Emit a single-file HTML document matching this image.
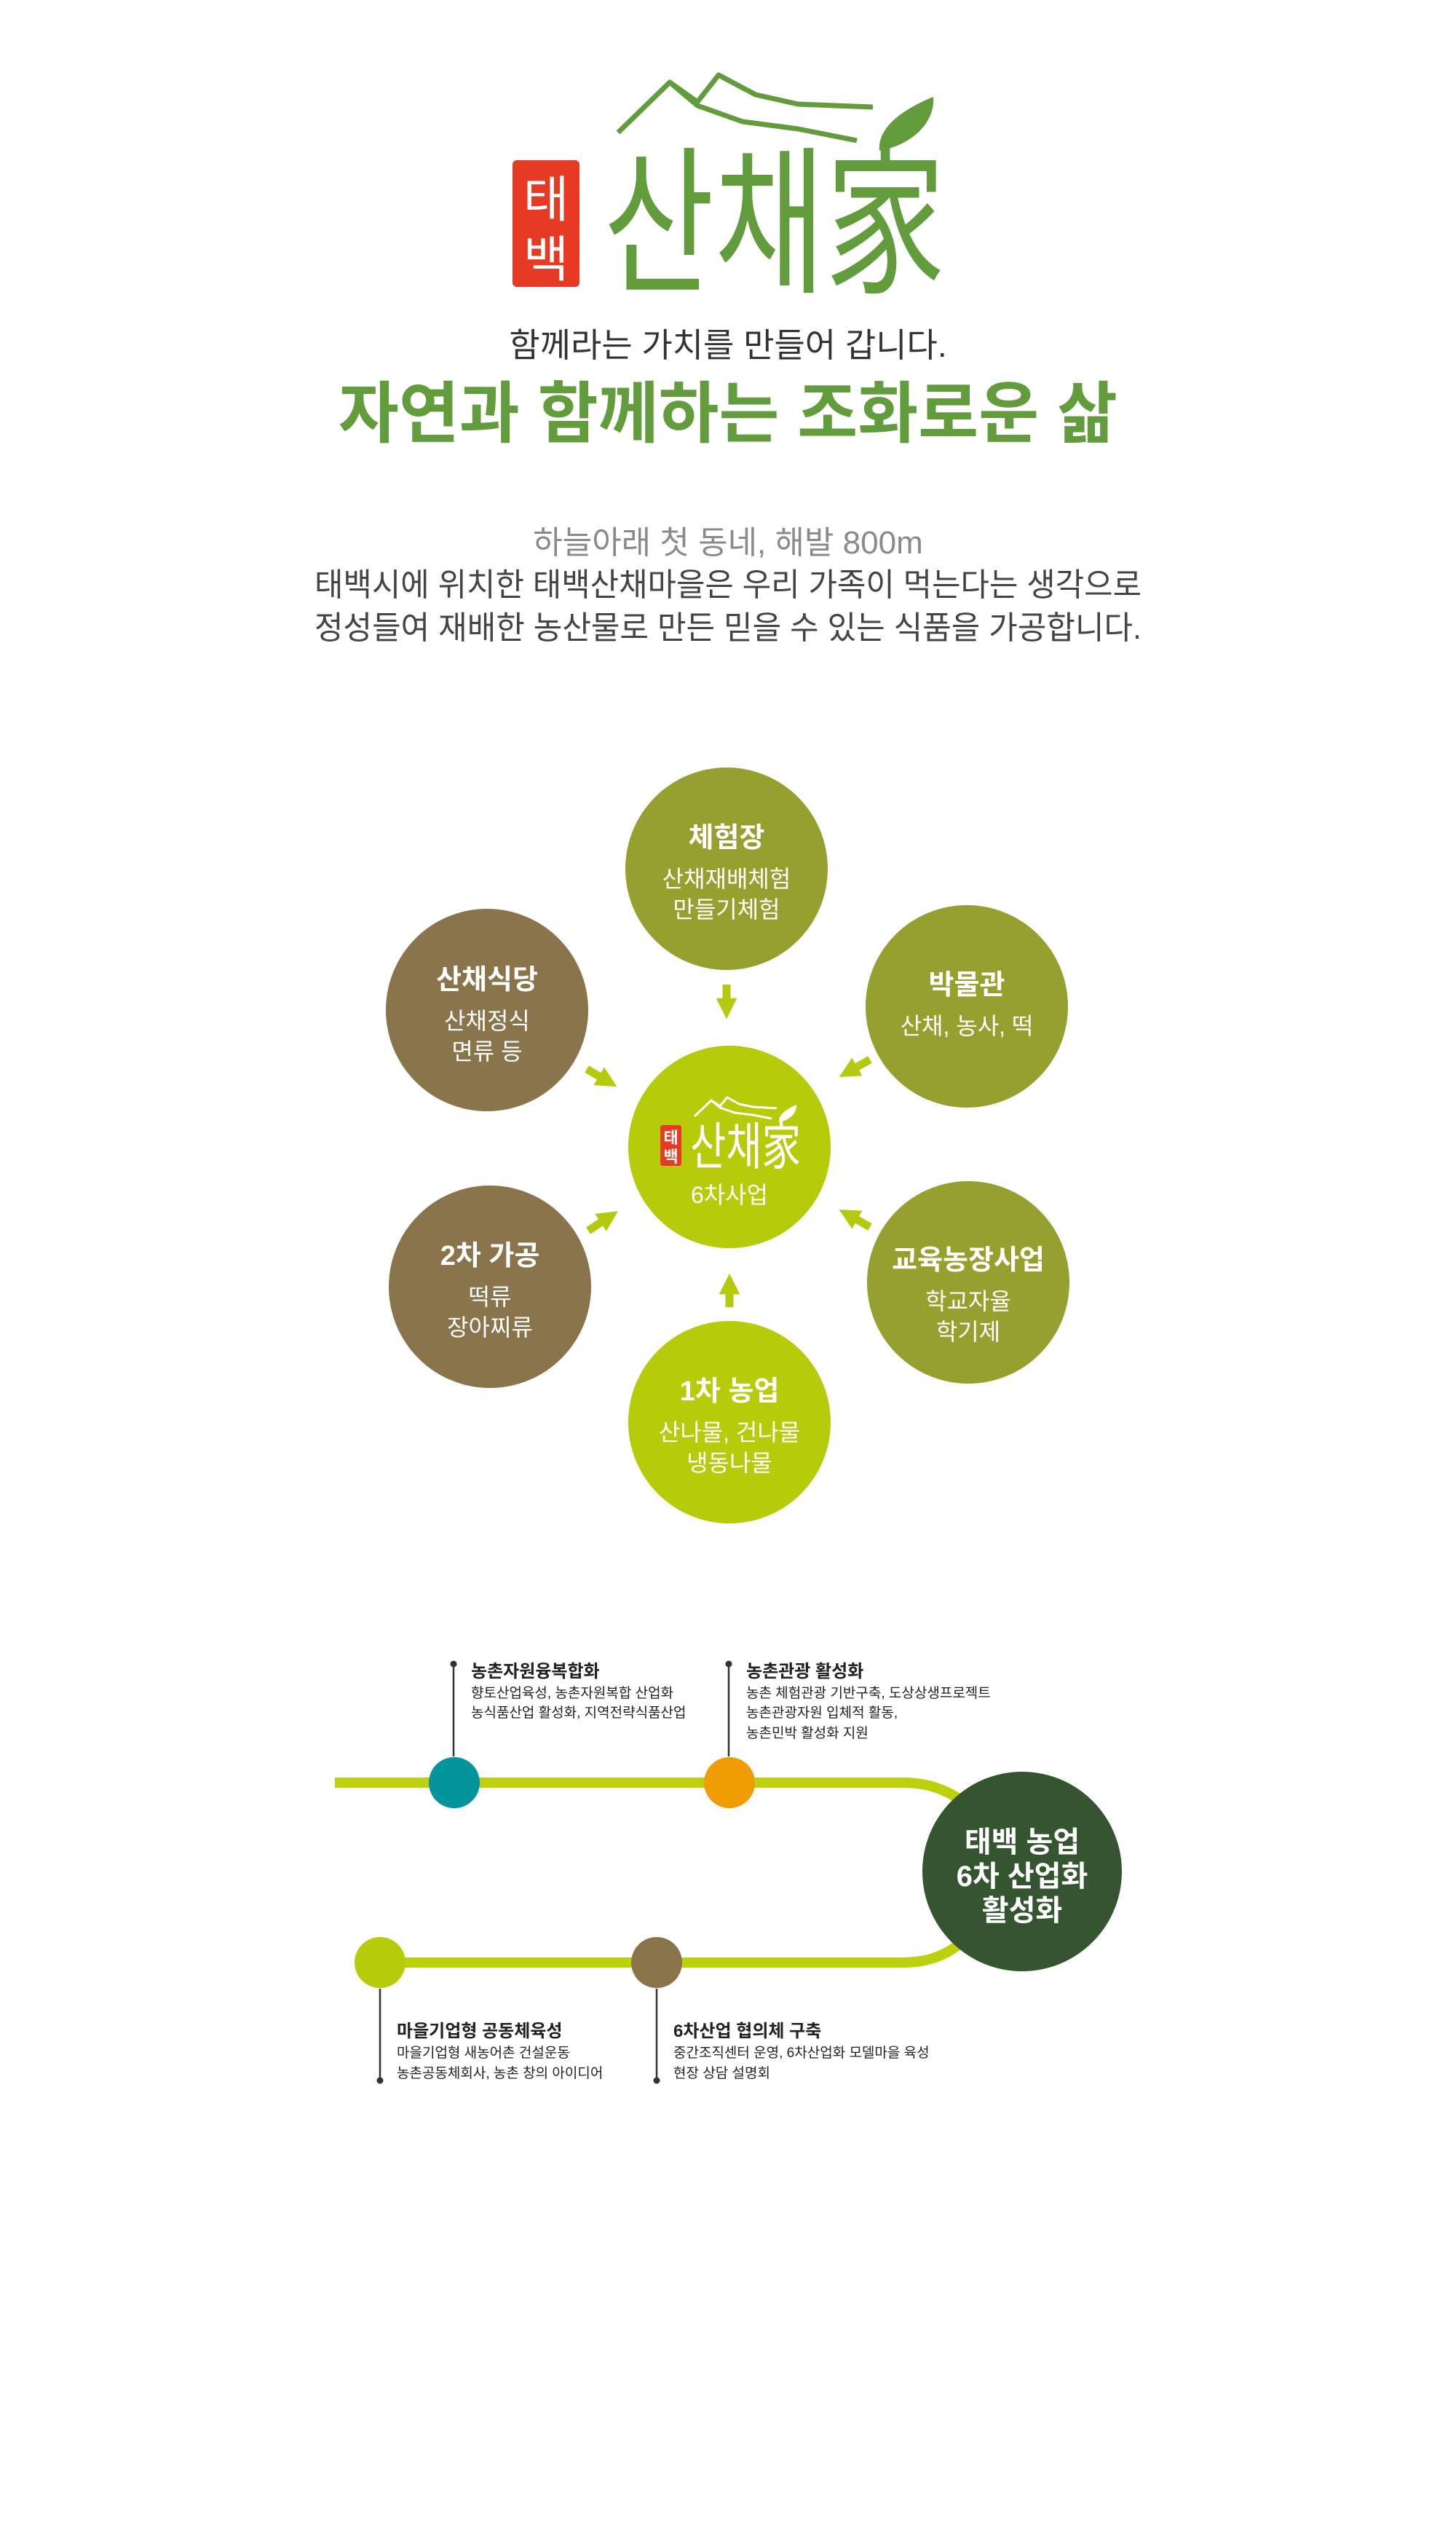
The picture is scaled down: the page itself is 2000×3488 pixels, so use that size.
<!DOCTYPE html>
<html><head><meta charset="utf-8"><style>
html,body{margin:0;padding:0;background:#fff;}
svg{display:block;}
text{font-family:"Liberation Sans","Noto Sans CJK KR",sans-serif;}
</style></head><body>
<svg width="2000" height="3488" viewBox="0 0 2000 3488" xmlns="http://www.w3.org/2000/svg">
<defs>
<marker id="ah" viewBox="0 0 10 10" refX="5" refY="5" markerWidth="2.6" markerHeight="2.6" orient="auto"><path d="M0,0 L10,5 L0,10 z" fill="#b5c90f"/></marker>
</defs>
<!-- Main logo -->
<g fill="none" stroke="#629c3c" stroke-width="7" stroke-linejoin="round">
<polyline points="849,182 920,113 958,140 987,103 1038,130 1096,143 1199,147"/>
<polyline points="920,113 958,145 1020,167 1096,177 1177,193"/>
</g>
<path d="M1282,133 C1240,150 1205,175 1208,207 C1250,200 1285,170 1282,133 Z" fill="#629c3c"/>
<rect x="704" y="220" width="92" height="174" rx="6" fill="#e63a24"/>
<text x="750" y="298" font-size="68" fill="#fff" text-anchor="middle">태</text>
<text x="750" y="380" font-size="68" fill="#fff" text-anchor="middle">백</text>
<text x="829" y="385" font-size="220" font-weight="normal" fill="#629c3c" textLength="470" lengthAdjust="spacingAndGlyphs">산채家</text>

<text x="1000" y="490" font-size="46" fill="#333" text-anchor="middle">함께라는 가치를 만들어 갑니다.</text>
<text x="1000" y="600" font-size="92" font-weight="bold" fill="#629c3c" text-anchor="middle" textLength="1070" lengthAdjust="spacingAndGlyphs">자연과 함께하는 조화로운 삶</text>

<text x="1000" y="760" font-size="44" fill="#8a8a8a" text-anchor="middle">하늘아래 첫 동네, 해발 800m</text>
<text x="1000" y="818" font-size="44" fill="#444" text-anchor="middle" textLength="1136" lengthAdjust="spacingAndGlyphs">태백시에 위치한 태백산채마을은 우리 가족이 먹는다는 생각으로</text>
<text x="1000" y="877" font-size="44" fill="#444" text-anchor="middle" textLength="1136" lengthAdjust="spacingAndGlyphs">정성들여 재배한 농산물로 만든 믿을 수 있는 식품을 가공합니다.</text>

<!-- Circles -->
<circle cx="998" cy="1193" r="139" fill="#96a02e"/>
<circle cx="1328" cy="1382" r="139" fill="#96a02e"/>
<circle cx="669" cy="1387" r="139" fill="#8a744b"/>
<circle cx="1002" cy="1575" r="139" fill="#b7cb0a"/>
<circle cx="673" cy="1767" r="139" fill="#8a744b"/>
<circle cx="1330" cy="1761" r="139" fill="#96a02e"/>
<circle cx="1002" cy="1953" r="139" fill="#b7cb0a"/>

<g fill="#fff" text-anchor="middle">
<text x="998" y="1163" font-size="38" font-weight="bold">체험장</text>
<text x="998" y="1218" font-size="32">산채재배체험</text>
<text x="998" y="1260" font-size="32">만들기체험</text>

<text x="1328" y="1365" font-size="38" font-weight="bold">박물관</text>
<text x="1328" y="1420" font-size="32">산채, 농사, 떡</text>

<text x="669" y="1358" font-size="38" font-weight="bold">산채식당</text>
<text x="669" y="1413" font-size="32">산채정식</text>
<text x="669" y="1455" font-size="32">면류 등</text>

<text x="673" y="1737" font-size="38" font-weight="bold">2차 가공</text>
<text x="673" y="1792" font-size="32">떡류</text>
<text x="673" y="1834" font-size="32">장아찌류</text>

<text x="1330" y="1743" font-size="38" font-weight="bold">교육농장사업</text>
<text x="1330" y="1798" font-size="32">학교자율</text>
<text x="1330" y="1840" font-size="32">학기제</text>

<text x="1002" y="1923" font-size="38" font-weight="bold">1차 농업</text>
<text x="1002" y="1978" font-size="32">산나물, 건나물</text>
<text x="1002" y="2020" font-size="32">냉동나물</text>

<text x="1002" y="1652" font-size="32">6차사업</text>
</g>
<!-- mini logo -->
<g fill="none" stroke="#fff" stroke-width="3" stroke-linejoin="round">
<polyline points="954,1533 977,1511 989,1519 999,1507 1015,1516 1034,1520 1067,1522"/>
<polyline points="977,1511 989,1521 1009,1528 1034,1531 1060,1536"/>
</g>
<path d="M1094,1517 C1080,1523 1069,1531 1070,1541 C1083,1539 1095,1529 1094,1517 Z" fill="#fff"/>
<rect x="907" y="1545" width="29" height="56" rx="3" fill="#e63a24"/>
<text x="921.5" y="1570" font-size="22" font-weight="bold" fill="#fff" text-anchor="middle">태</text>
<text x="921.5" y="1596" font-size="22" font-weight="bold" fill="#fff" text-anchor="middle">백</text>
<text x="948" y="1599" font-size="70" fill="#fff" textLength="152" lengthAdjust="spacingAndGlyphs">산채家</text>

<!-- arrows -->
<g stroke="#b5c90f" stroke-width="11" fill="none" marker-end="url(#ah)">
<line x1="998" y1="1352" x2="998" y2="1385"/>
<line x1="1002" y1="1795" x2="1002" y2="1763"/>
<line x1="806" y1="1468" x2="835" y2="1485"/>
<line x1="808" y1="1690" x2="837" y2="1671"/>
<line x1="1195" y1="1455" x2="1165" y2="1472"/>
<line x1="1195" y1="1685" x2="1165" y2="1668"/>
</g>

<!-- timeline -->
<g stroke="#bcd00c" stroke-width="14" fill="none">
<path d="M460,2448 L1240,2448 C1270,2448 1295,2455 1320,2472"/>
<path d="M522,2695 L1240,2695 C1270,2695 1295,2688 1320,2668"/>
</g>
<circle cx="1404" cy="2570" r="137" fill="#355531"/>
<g fill="#fff" text-anchor="middle" font-size="40" font-weight="bold">
<text x="1404" y="2543">태백 농업</text>
<text x="1404" y="2590">6차 산업화</text>
<text x="1404" y="2637">활성화</text>
</g>
<circle cx="624" cy="2448" r="35" fill="#04949c"/>
<circle cx="1002" cy="2448" r="35" fill="#f29c05"/>
<circle cx="522" cy="2695" r="35" fill="#b7cb0a"/>
<circle cx="902" cy="2695" r="35" fill="#8a744b"/>

<g stroke="#333" stroke-width="2.5">
<line x1="623" y1="2285" x2="623" y2="2412"/>
<line x1="1001" y1="2285" x2="1001" y2="2412"/>
<line x1="522" y1="2731" x2="522" y2="2857"/>
<line x1="902" y1="2731" x2="902" y2="2857"/>
</g>
<g fill="#333">
<circle cx="623" cy="2285" r="4.5"/><circle cx="1001" cy="2285" r="4.5"/>
<circle cx="522" cy="2857" r="4.5"/><circle cx="902" cy="2857" r="4.5"/>
</g>
<g fill="#222">
<text x="647" y="2303" font-size="24" font-weight="bold">농촌자원융복합화</text>
<text x="647" y="2331" font-size="19">향토산업육성, 농촌자원복합 산업화</text>
<text x="647" y="2358" font-size="19">농식품산업 활성화, 지역전략식품산업</text>

<text x="1025" y="2303" font-size="24" font-weight="bold">농촌관광 활성화</text>
<text x="1025" y="2331" font-size="19">농촌 체험관광 기반구축, 도상상생프로젝트</text>
<text x="1025" y="2358" font-size="19">농촌관광자원 입체적 활동,</text>
<text x="1025" y="2386" font-size="19">농촌민박 활성화 지원</text>

<text x="545" y="2797" font-size="24" font-weight="bold">마을기업형 공동체육성</text>
<text x="545" y="2825" font-size="19">마을기업형 새농어촌 건설운동</text>
<text x="545" y="2853" font-size="19">농촌공동체회사, 농촌 창의 아이디어</text>

<text x="925" y="2797" font-size="24" font-weight="bold">6차산업 협의체 구축</text>
<text x="925" y="2825" font-size="19">중간조직센터 운영, 6차산업화 모델마을 육성</text>
<text x="925" y="2853" font-size="19">현장 상담 설명회</text>
</g>
</svg>
</body></html>
